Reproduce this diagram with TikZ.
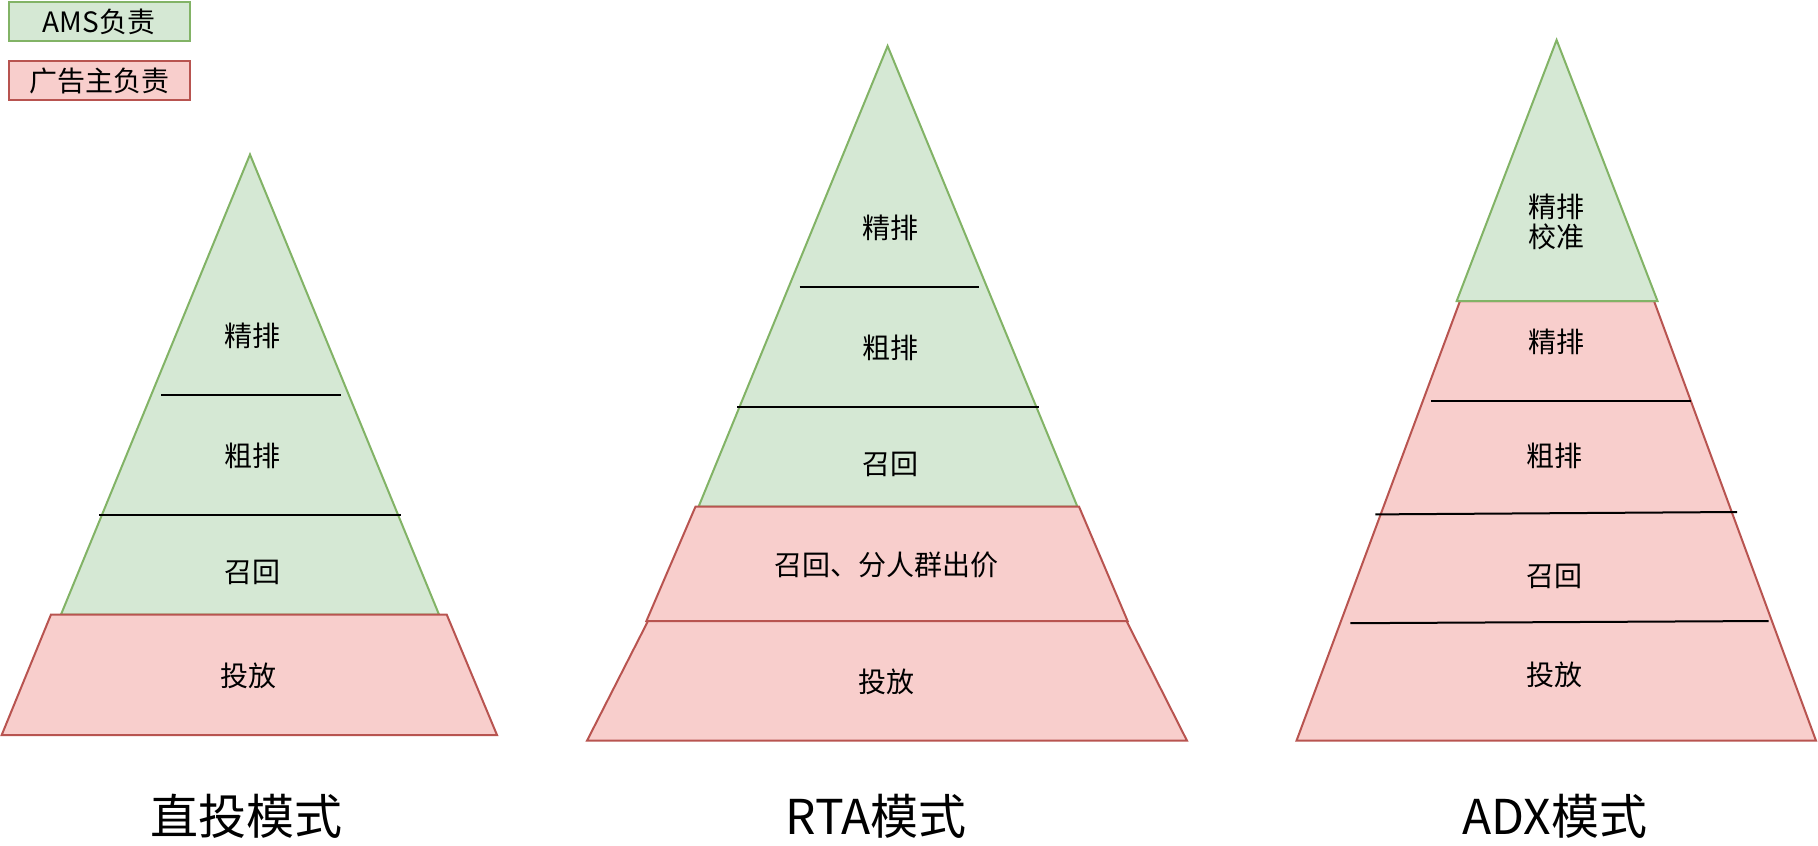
\documentclass[tikz,border=0pt]{standalone}
\usepackage{fontspec}
\setmainfont{Noto Sans CJK SC}
\begin{document}
\begin{tikzpicture}[x=1pt,y=-1pt,
  green/.style={fill=gfill,draw=gline,line width=2pt,line join=miter},
  red/.style={fill=rfill,draw=rline,line width=2pt,line join=miter},
  sep/.style={draw=black,line width=2pt},
  lbl/.style={font=\fontsize{28}{34}\selectfont,align=center,inner sep=0pt},
  legendtxt/.style={font=\fontsize{28}{32}\selectfont,inner sep=0pt},
  title/.style={font=\fontsize{48}{56}\selectfont,inner sep=0pt}]
\definecolor{gfill}{HTML}{D5E8D4}\definecolor{gline}{HTML}{82B366}
\definecolor{rfill}{HTML}{F8CECC}\definecolor{rline}{HTML}{B85450}
\useasboundingbox (0,0) rectangle (1818,846);
% legend
\draw[green] (9,2) rectangle (190,41);
\node[legendtxt] (lgA) at (99,21.5) {AMS负责};
\draw[red] (9,61) rectangle (190,100);
\node[legendtxt] (lgB) at (99,80.5) {广告主负责};
% pyramid 1: 直投模式
\draw[green] (250,154.5) -- (439,614.5) -- (61,614.5) -- cycle;
\draw[red] (51,614.5) -- (446.7,614.5) -- (497,735) -- (1.7,735) -- cycle;
\draw[sep] (161,394.5) -- (340.7,394.5);
\draw[sep] (99.3,515) -- (400.7,515);
\node[lbl] (a1) at (252,336) {精排};
\node[lbl] (a2) at (252,456) {粗排};
\node[lbl] (a3) at (252,572.5) {召回};
\node[lbl] (a4) at (248,676) {投放};
\node[title] (t1) at (246,816) {直投模式};
% pyramid 2: RTA模式
\draw[green] (887.6,46) -- (1077.4,506.6) -- (698.6,506.6) -- cycle;
\draw[red] (695.5,506.6) -- (1079,506.6) -- (1127.6,621) -- (646.4,621) -- cycle;
\draw[red] (648,621) -- (1126.5,621) -- (1187,740.7) -- (587,740.7) -- cycle;
\draw[sep] (799.5,287) -- (978.6,287);
\draw[sep] (737.4,406.5) -- (1038.7,406.5);
\node[lbl] (b1) at (890,228) {精排};
\node[lbl] (b2) at (890,348) {粗排};
\node[lbl] (b3) at (890,464) {召回};
\node[lbl] (b4) at (886.4,565) {召回、分人群出价};
\node[lbl] (b5) at (886,682) {投放};
\node[title] (t2) at (876,816) {RTA模式};
% pyramid 3: ADX模式
\draw[red] (1460,301) -- (1654,301) -- (1816,740.7) -- (1296.5,740.7) -- cycle;
\draw[green] (1556.6,40) -- (1657.5,301) -- (1456.7,301) -- cycle;
\draw[sep] (1431,400.5) -- (1690.8,400.5);
\draw[sep] (1375.4,514.4) -- (1737,512);
\draw[sep] (1350.3,623.2) -- (1768.7,621);
\node[lbl] (c0) at (1556,222) {精排\\[-4pt]校准};
\node[lbl] (c1) at (1556,342) {精排};
\node[lbl] (c2) at (1554.5,456) {粗排};
\node[lbl] (c3) at (1554.5,576) {召回};
\node[lbl] (c4) at (1554.5,675) {投放};
\node[title] (t3) at (1555,816) {ADX模式};
\end{tikzpicture}
\end{document}
